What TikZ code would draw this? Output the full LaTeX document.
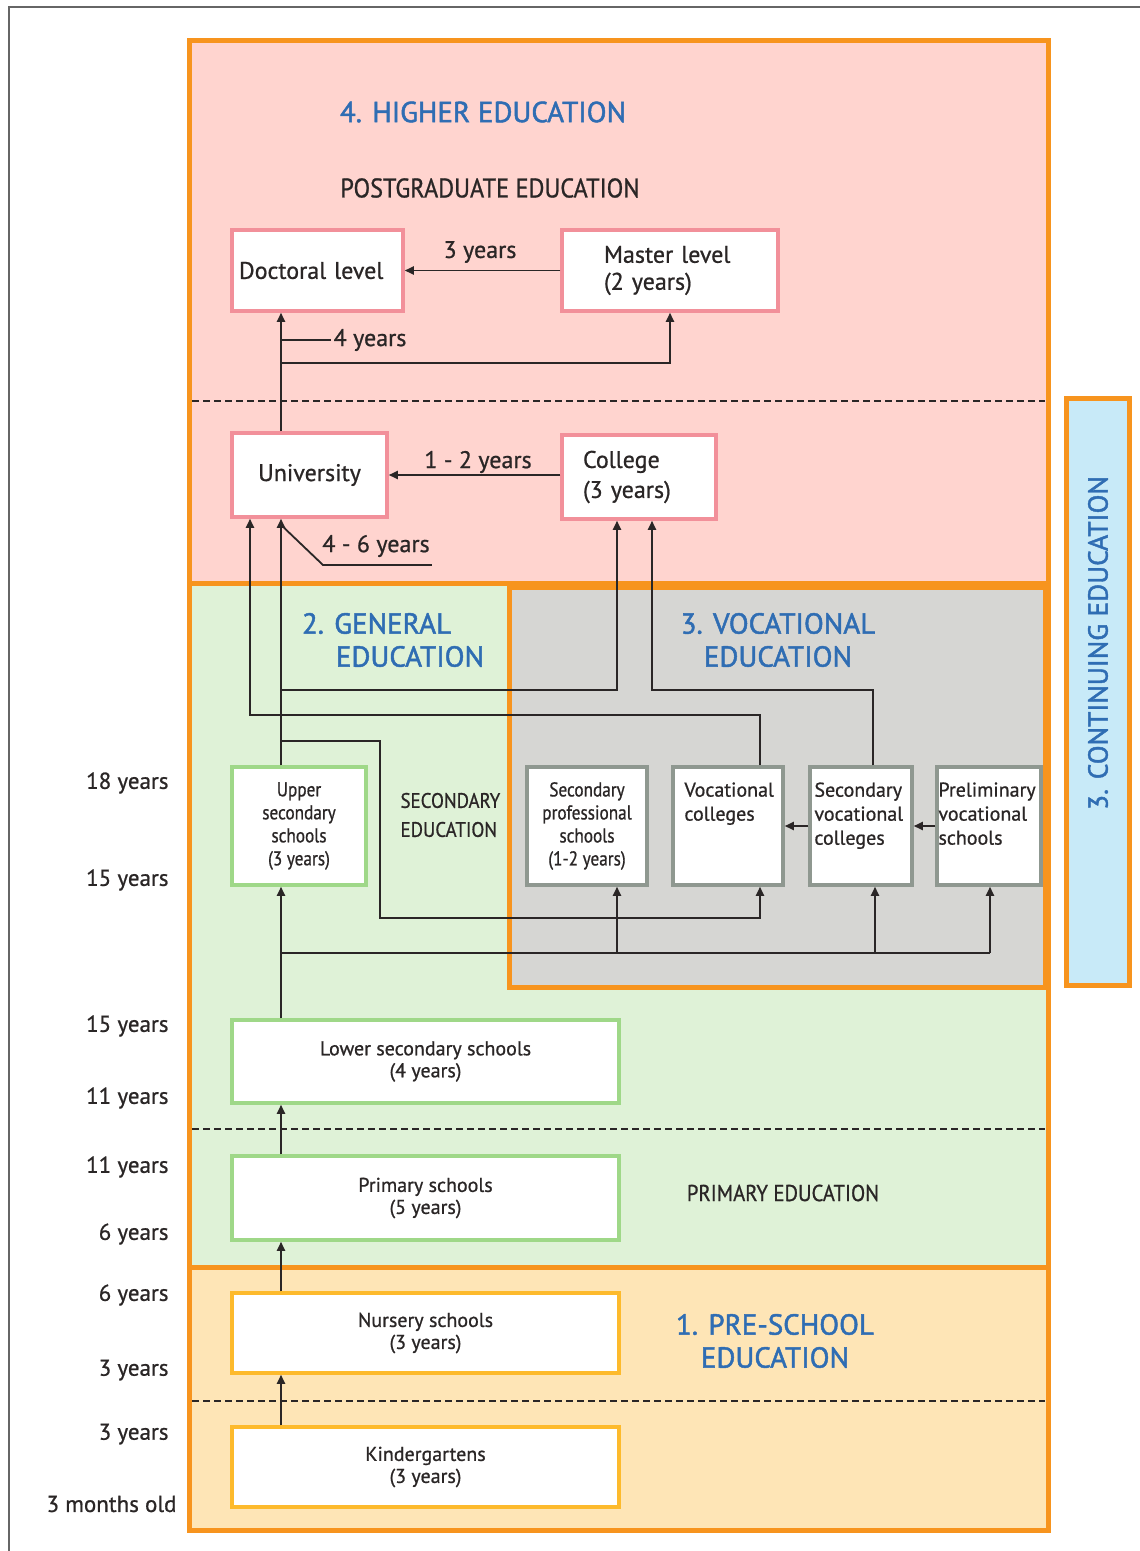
\documentclass[tikz,border=0pt]{standalone}
\usepackage{fontspec}
\setmainfont{PT Sans}
\newfontfamily\plainface[FakeBold=0.8]{PT Sans}
\newfontfamily\narrowface[FakeStretch=0.86, FakeBold=0.8]{PT Sans}
\newfontfamily\capface[FakeStretch=0.9, FakeBold=0.8]{PT Sans}
\newfontfamily\headface[FakeBold=1.6]{PT Sans}
\usetikzlibrary{arrows.meta,calc}

\definecolor{stageorange}{HTML}{F7941E}
\definecolor{pinkfill}{HTML}{FFD4CF}
\definecolor{greenfill}{HTML}{DFF2D7}
\definecolor{grayfill}{HTML}{D6D6D3}
\definecolor{prefill}{HTML}{FEE5B6}
\definecolor{bluefill}{HTML}{C8EAF8}
\definecolor{pinkedge}{HTML}{F2909A}
\definecolor{greenedge}{HTML}{9FD888}
\definecolor{grayedge}{HTML}{8F9890}
\definecolor{yellowedge}{HTML}{FDBA2C}
\definecolor{headblue}{HTML}{2F6DB3}
\definecolor{ink}{HTML}{2A2626}
\definecolor{framegray}{HTML}{666666}

\newcommand\hefnt{\plainface\fontsize{24}{27}\selectfont}
\newcommand\genfnt{\narrowface\fontsize{20}{23}\selectfont}
\newcommand\vocfnt{\plainface\fontsize{20}{24}\selectfont}
\newcommand\widefnt{\plainface\fontsize{20}{22}\selectfont}
\newcommand\agefnt{\plainface\fontsize{23}{26}\selectfont}
\newcommand\headfnt{\headface\fontsize{29}{33}\selectfont}

\tikzset{
  block/.style={draw=stageorange, line width=5pt},
  school/.style={draw, fill=white, line width=3.5pt, align=center, inner sep=2pt, text=ink},
  hebox/.style={school, draw=pinkedge, font=\hefnt},
  genbox/.style={school, draw=greenedge, font=\genfnt},
  widebox/.style={school, draw=greenedge, font=\widefnt},
  vocbox/.style={school, draw=grayedge, font=\genfnt},
  prebox/.style={school, draw=yellowedge, font=\widefnt},
  vocnote/.style={text=ink, font=\vocfnt, inner sep=0pt, anchor=north west, align=left},
  divider/.style={draw=ink, line width=2pt, dash pattern=on 7pt off 4pt},
  link/.style={draw=ink, line width=1.8pt},
  arr/.style={link, -{Triangle[length=9pt,width=8pt]}},
  heading/.style={text=headblue, font=\headfnt, align=center},
  caption/.style={text=ink, align=left},
  note/.style={text=ink, font=\hefnt, inner sep=2pt},
  age/.style={anchor=east, font=\agefnt, text=ink},
}

\begin{document}
\begin{tikzpicture}[x=1pt,y=-1pt]
\useasboundingbox (0,0) rectangle (1140,1551);
\fill[white] (0,0) rectangle (1140,1551);
\draw[framegray, line width=2.5pt] (9,1551) -- (9,7) -- (1140,7);

% stage blocks
\draw[block, fill=pinkfill] (189,40) rectangle (1048,583);
\draw[block, fill=greenfill] (189,583) rectangle (1048,1267);
\draw[block, fill=prefill] (189,1267) rectangle (1048,1530);
\draw[block, fill=grayfill] (509,587) rectangle (1045,987);
\draw[block, fill=bluefill] (1066,398) rectangle (1129,985);

% level dividers
\draw[divider] (192,401) -- (1045,401);
\draw[divider] (192,1129) -- (1045,1129);
\draw[divider] (192,1401) -- (1045,1401);

% headings
\node[heading] at (483,112) {4. HIGHER EDUCATION};
\node[heading, align=left] at (393,640) {2. GENERAL\\\hspace*{34pt}EDUCATION};
\node[heading] at (778,640) {3. VOCATIONAL\\EDUCATION};
\node[heading] at (775,1341) {1. PRE-SCHOOL\\EDUCATION};
\node[heading, font=\headface\fontsize{27.5}{32}\selectfont, rotate=90] at (1098,643) {3. CONTINUING EDUCATION};

\node[caption, font=\capface\fontsize{27}{30}\selectfont] at (490,188) {POSTGRADUATE EDUCATION};
\node[caption, anchor=west, font=\capface\fontsize{21}{29}\selectfont] at (397,815) {SECONDARY\\EDUCATION};
\node[caption, font=\capface\fontsize{23}{28}\selectfont] at (783,1193) {PRIMARY EDUCATION};

% ages
\node[age] at (172,783) {18 years};
\node[age] at (172,880) {15 years};
\node[age] at (172,1026) {15 years};
\node[age] at (172,1098) {11 years};
\node[age] at (172,1167) {11 years};
\node[age] at (172,1234) {6 years};
\node[age] at (172,1295) {6 years};
\node[age] at (172,1370) {3 years};
\node[age] at (172,1434) {3 years};
\node[age] at (180,1504) {3 months old};

% higher education
\node[hebox, align=left, text width=157pt, inner xsep=7pt, minimum height=81pt] (doc) at (317.5,270.5) {Doctoral level};
\node[hebox, align=left, text width=132pt, inner xsep=42pt, minimum height=81pt] (mas) at (670,270.5) {Master level\\(2 years)};
\node[hebox, minimum width=155pt, minimum height=84pt] (uni) at (309.5,475) {University};
\node[hebox, align=left, text width=112pt, inner xsep=21pt, minimum height=84pt] (col) at (639,477) {College\\[3pt](3 years)};

% secondary
\node[genbox, minimum width=134pt, minimum height=118pt] (uss) at (299,826) {Upper\\secondary\\schools\\(3 years)};
\node[vocbox, minimum width=120pt, minimum height=118pt] (sps) at (587,826) {Secondary\\professional\\schools\\(1-2 years)};
\node[vocbox, minimum width=110pt, minimum height=118pt,
  label={[vocnote, xshift=13pt, yshift=-17pt]north west:Vocational\\colleges}] (vc) at (728,826) {};
\node[vocbox, minimum width=102pt, minimum height=118pt,
  label={[vocnote, xshift=6pt, yshift=-17pt]north west:Secondary\\vocational\\colleges}] (svc) at (861,826) {};
\node[vocbox, minimum width=104pt, minimum height=118pt,
  label={[vocnote, xshift=3pt, yshift=-17pt]north west:Preliminary\\vocational\\schools}] (pvs) at (989,826) {};

% compulsory and pre-school
\node[widebox, minimum width=387pt, minimum height=83pt] (lss) at (425.5,1061.5) {Lower secondary schools\\(4 years)};
\node[widebox, minimum width=387pt, minimum height=84pt] (ps) at (425.5,1198) {Primary schools\\(5 years)};
\node[prebox, minimum width=387pt, minimum height=80pt] (ns) at (425.5,1333) {Nursery schools\\(3 years)};
\node[prebox, minimum width=387pt, minimum height=80pt] (kg) at (425.5,1467) {Kindergartens\\(3 years)};

% duration labels
\node[note] (threeyr) at (480,252) {3 years};
\node[note] (fouryr) at (370,340) {4 years};
\node[note] (onetwo) at (478,462) {1 - 2 years};
\node[note] (foursix) at (376,546) {4 - 6 years};

% route guides
\coordinate (trunk) at (281,0);
\coordinate (side) at (250,0);
\coordinate (m4) at (281,363);
\coordinate (cl) at (617,690);
\coordinate (cr) at (652,690);
\coordinate (sv) at (873,690);
\coordinate (vt) at (760,715);
\coordinate (d1) at (380,741);
\coordinate (d2) at (380,918);
\coordinate (bs) at (617,953);
\coordinate (bv) at (875,953);
\coordinate (bp) at (990,953);
\coordinate (lk) at (323,565);

% connectors
\draw[arr] (mas.west) -- (doc.east);
\draw[arr] (trunk |- uni.north) -- (trunk |- doc.south);
\draw[arr] (m4) -- (m4 -| mas.south) -- (mas.south);
\draw[link] (trunk |- fouryr.west) -- (fouryr.west);
\draw[arr] (col.west |- uni.east) -- (uni.east);
\draw[link] ($(trunk |- uni.south)+(3,9)$) -- (lk) -- (lk -| foursix.east);

\draw[arr] (trunk |- uss.north) -- (trunk |- uni.south);
\draw[arr] (trunk |- cl) -- (cl) -- (cl |- col.south);
\draw[arr] (sv |- svc.north) -- (sv) -- (cr) -- (cr |- col.south);
\draw[arr] (vt |- vc.north) -- (vt) -- (side |- vt) -- (side |- uni.south);
\draw[arr] (trunk |- d1) -- (d1) -- (d2) -- (vt |- d2) -- (vt |- vc.south);

\draw[arr] (svc.west) -- (vc.east);
\draw[arr] (pvs.west) -- (svc.east);

\draw[arr] (trunk |- lss.north) -- (trunk |- uss.south);
\draw[link] (trunk |- bp) -- (bp);
\draw[arr] (bs) -- (bs |- sps.south);
\draw[arr] (bv) -- (bv |- svc.south);
\draw[arr] (bp) -- (bp |- pvs.south);

\draw[arr] (trunk |- ps.north) -- (trunk |- lss.south);
\draw[arr] (trunk |- ns.north) -- (trunk |- ps.south);
\draw[arr] (trunk |- kg.north) -- (trunk |- ns.south);
\end{tikzpicture}
\end{document}
